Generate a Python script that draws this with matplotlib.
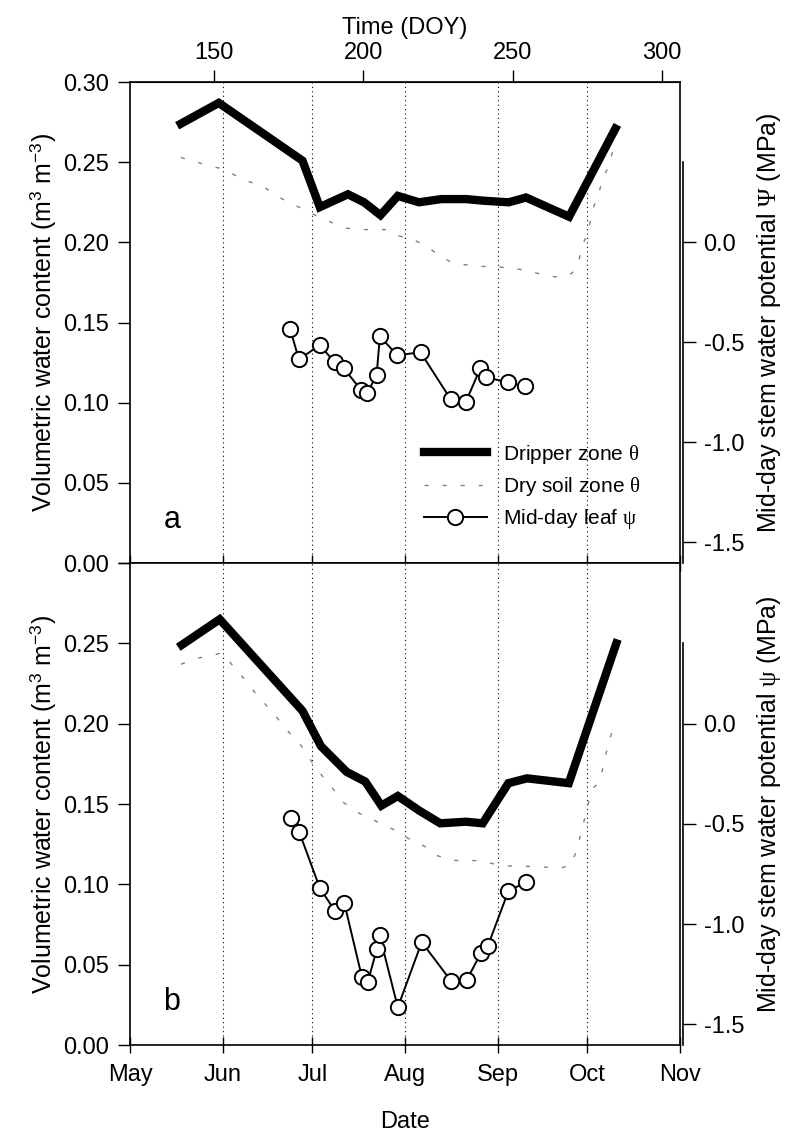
import matplotlib
matplotlib.use("Agg")
import matplotlib.pyplot as plt
import numpy as np

plt.rcParams["font.family"] = ["Liberation Sans", "DejaVu Sans"]
plt.rcParams["mathtext.fontset"] = "custom"
plt.rcParams["mathtext.rm"] = "Liberation Sans"
plt.rcParams["mathtext.it"] = "Liberation Serif"
plt.rcParams["mathtext.cal"] = "Liberation Serif"
plt.rcParams["axes.unicode_minus"] = False

# day of year (2004, leap year)
month_doy = [122, 153, 183, 214, 245, 275, 306]
month_names = ["May", "Jun", "Jul", "Aug", "Sep", "Oct", "Nov"]
doy_ticks = [150, 200, 250, 300]

# panel a
drip_a_doy = [139, 151.7, 179.7, 185.5, 194.9, 200.3, 205.8, 211.6, 218.7, 226.1,
              234.5, 240.3, 248.7, 254.5, 268.9, 284.4]
drip_a = [0.274, 0.287, 0.251, 0.222, 0.230, 0.225, 0.217, 0.229, 0.225, 0.227,
          0.227, 0.226, 0.225, 0.228, 0.216, 0.271]

dry_a_doy = [139, 143.6, 148, 152.6, 157, 161.6, 166.5, 170.6, 175, 179.7, 184,
             188.7, 193.8, 198.4, 202.9, 207.4, 211.9, 216.4, 220.9, 225.4, 230,
             234.5, 239.6, 244.1, 248.7, 253.2, 257.7, 262.2, 266.7, 270, 272,
             273.3, 275.2, 276.2, 277.1, 279, 280.3, 282.2, 283.5]
dry_a = [0.253, 0.2505, 0.248, 0.246, 0.242, 0.238, 0.235, 0.2295, 0.225, 0.221,
         0.217, 0.213, 0.209, 0.208, 0.208, 0.208, 0.204, 0.202, 0.198, 0.192,
         0.187, 0.186, 0.185, 0.185, 0.184, 0.183, 0.181, 0.179, 0.178, 0.181,
         0.187, 0.198, 0.206, 0.215, 0.222, 0.232, 0.240, 0.248, 0.257]

leaf_a_doy = [175.6, 178.5, 185.5, 190.5, 193.5, 199.4, 201.3, 204.5, 205.6, 211.4,
              219.2, 229.3, 234.3, 239.2, 241.2, 248.3, 254.0]
leaf_a = [-0.435, -0.585, -0.515, -0.60, -0.63, -0.74, -0.755, -0.665, -0.47, -0.565,
          -0.55, -0.785, -0.80, -0.63, -0.675, -0.70, -0.72]

# panel b
drip_b_doy = [139.3, 152, 179.7, 185.9, 194.5, 200.7, 206.1, 211.6, 218.7, 225.8,
              234.4, 240, 248.6, 254.8, 268.8, 284.7]
drip_b = [0.249, 0.265, 0.208, 0.186, 0.170, 0.164, 0.149, 0.155, 0.146, 0.138,
          0.139, 0.138, 0.163, 0.166, 0.163, 0.250]

dry_b_doy = [139.1, 143.6, 148.1, 152.6, 156.5, 160.1, 164, 167.8, 171.7, 175.5,
             179.4, 182.9, 186.1, 189.7, 193.4, 197.9, 202.2, 206.6, 211.4, 215.6,
             220.3, 224.6, 229.5, 234, 238.5, 243.1, 247.6, 252.1, 256.8, 261.3,
             265.8, 269.5, 271.2, 272.5, 273.7, 274.8, 275.9, 277, 278.7, 280,
             281, 282.3, 283.6]
dry_b = [0.237, 0.2405, 0.242, 0.244, 0.236, 0.228, 0.219, 0.211, 0.2025, 0.194,
         0.186, 0.176, 0.168, 0.160, 0.151, 0.145, 0.141, 0.1375, 0.133, 0.128,
         0.124, 0.118, 0.115, 0.1148, 0.1148, 0.113, 0.1115, 0.1115, 0.111, 0.1107,
         0.110, 0.112, 0.120, 0.129, 0.138, 0.146, 0.155, 0.160, 0.163, 0.171,
         0.1795, 0.189, 0.197]

leaf_b_doy = [175.7, 178.6, 185.5, 190.6, 193.7, 199.6, 201.5, 204.6, 205.5, 211.6,
              219.6, 229.5, 234.6, 239.4, 241.7, 248.6, 254.6]
leaf_b = [-0.47, -0.54, -0.82, -0.935, -0.895, -1.265, -1.29, -1.125, -1.055, -1.415,
          -1.09, -1.285, -1.28, -1.145, -1.11, -0.835, -0.79]

fig = plt.figure(figsize=(7.86, 11.43), dpi=100)
ax_a = fig.add_axes([0.1654, 0.5074, 0.6997, 0.4208])
ax_b = fig.add_axes([0.1654, 0.0857, 0.6997, 0.4217])

fs = 17
panels = [
    (ax_a, drip_a_doy, drip_a, dry_a_doy, dry_a, leaf_a_doy, leaf_a, "a",
     "Mid-day stem water potential $\\mathcal{\\Psi}$ (MPa)",
     ["0.00", "0.05", "0.10", "0.15", "0.20", "0.25", "0.30"]),
    (ax_b, drip_b_doy, drip_b, dry_b_doy, dry_b, leaf_b_doy, leaf_b, "b",
     "Mid-day stem water potential $\\psi$ (MPa)",
     ["0.00", "0.05", "0.10", "0.15", "0.20", "0.25", ""]),
]

for ax, ddoy, dv, sdoy, sv, ldoy, lv, letter, rlabel, ylabs in panels:
    for m in month_doy[1:-1]:
        ax.axvline(m, color="black", lw=0.8, ls=(0, (1, 3)), zorder=1)
    h1, = ax.plot(ddoy, dv, color="black", lw=6, solid_joinstyle="miter",
                  label="Dripper zone $\\theta$", zorder=3)
    h2, = ax.plot(sdoy, sv, color="0.5", lw=1.0, ls=(0, (3, 10)),
                  label="Dry soil zone $\\theta$", zorder=2)
    ax.set_xlim(122, 306)
    ax.set_ylim(0, 0.30)
    ax.set_yticks([0, 0.05, 0.10, 0.15, 0.20, 0.25, 0.30])
    ax.set_yticklabels(ylabs)
    ax.set_xticks(month_doy)
    ax.tick_params(axis="y", direction="out", length=9, width=1, labelsize=fs, pad=6)
    ax.tick_params(axis="x", direction="inout", length=11, width=1, labelsize=fs, pad=8)
    ax.set_ylabel("Volumetric water content (m$^3$ m$^{-3}$)", fontsize=18, labelpad=4)
    for s in ax.spines.values():
        s.set_linewidth(1.2)
    ax.text(0.076, 0.09, letter, transform=ax.transAxes, fontsize=22,
            ha="center", va="center")

    tw = ax.twinx()
    h3, = tw.plot(ldoy, lv, color="black", lw=1.4, marker="o", ms=11,
                  mfc="white", mec="black", mew=1.4, label="Mid-day leaf $\\psi$",
                  zorder=4)
    tw.set_ylim(-1.603, 0.80)
    tw.set_yticks([-1.5, -1.0, -0.5, 0.0])
    tw.set_yticklabels(["-1.5", "-1.0", "-0.5", "0.0"])
    tw.tick_params(axis="y", direction="out", length=9, width=1, labelsize=fs, pad=6)
    for k in ["top", "bottom", "left"]:
        tw.spines[k].set_visible(False)
    tw.spines["right"].set_position(("outward", 2))
    tw.spines["right"].set_bounds(-1.603, 0.4)
    tw.spines["right"].set_linewidth(1.2)
    tw.set_ylabel(rlabel, fontsize=18, labelpad=8)

ax_a.set_xticklabels([])
ax_b.set_xticklabels(month_names)
ax_b.set_xlabel("Date", fontsize=fs, labelpad=18)

top = ax_a.secondary_xaxis("top")
top.set_xticks(doy_ticks)
top.tick_params(direction="out", length=9, width=1, labelsize=fs, pad=4)
top.set_xlabel("Time (DOY)", fontsize=fs, labelpad=6)

ax_a.legend([h1, h2, h3], [h1.get_label(), h2.get_label(), h3.get_label()],
            loc="center left", bbox_to_anchor=(0.535, 0.158), frameon=False,
            fontsize=15, handlelength=3.0, handletextpad=0.8, labelspacing=0.45,
            borderpad=0, borderaxespad=0)

fig.savefig("out.png", dpi=100)
